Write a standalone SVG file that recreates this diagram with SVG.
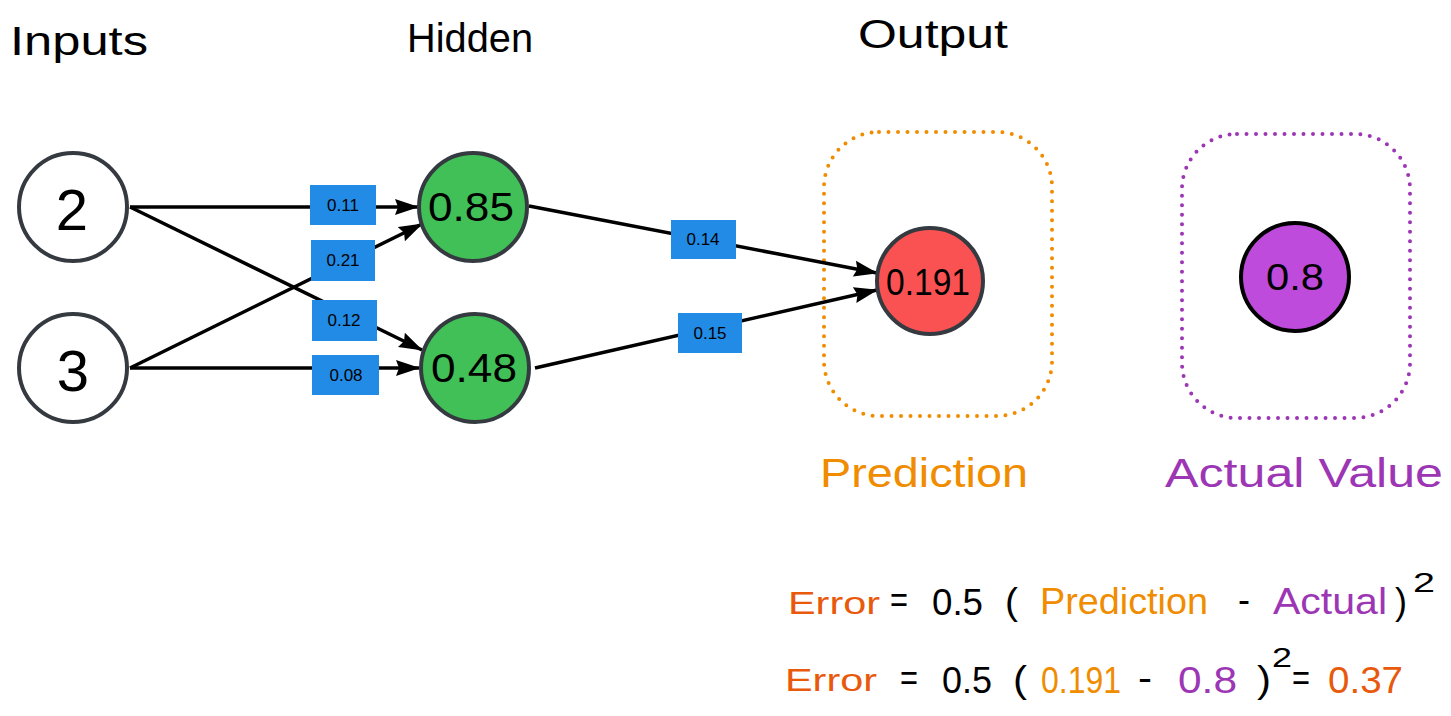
<svg xmlns="http://www.w3.org/2000/svg" width="1451" height="716" viewBox="0 0 1451 716">
<defs>
<marker id="arrow" viewBox="0 0 24 18" refX="23" refY="9" markerWidth="24" markerHeight="18" markerUnits="userSpaceOnUse" orient="auto">
<path d="M0,1 L24,9 L0,17 L3,9 z" fill="#000"/>
</marker>
</defs>
<style>
text{font-family:"Liberation Sans",Arial,sans-serif;}
.head{font-size:40px;fill:#000;}
.node{stroke:#343a40;stroke-width:4;}
.ntext{fill:#000;text-anchor:middle;dominant-baseline:central;}
.conn{stroke:#000;stroke-width:3.5;fill:none;}
.wbox{fill:#228be6;stroke:#228be6;stroke-width:2;}
.wtext{font-size:17px;fill:#000;text-anchor:middle;dominant-baseline:central;}
.eq{font-size:36px;}
.blk{fill:#000;}
.red{fill:#e8590c;}
.org{fill:#f08c00;}
.pur{fill:#9c36b5;}
</style>
<rect width="1451" height="716" fill="#fff"/>

<g id="headings">
<text class="head" x="10" y="55" textLength="138" lengthAdjust="spacingAndGlyphs">Inputs</text>
<text class="head" x="407" y="52" textLength="126" lengthAdjust="spacingAndGlyphs">Hidden</text>
<text class="head" x="858" y="48" textLength="150" lengthAdjust="spacingAndGlyphs">Output</text>
</g>

<g id="prediction-box">
<rect x="824" y="132" width="228" height="284" rx="55" fill="none" stroke="#f08c00" stroke-width="4" stroke-linecap="round" stroke-dasharray="0 9.5"/>
<text x="924" y="473" font-size="40" fill="#f08c00" text-anchor="middle" dominant-baseline="central" textLength="208" lengthAdjust="spacingAndGlyphs">Prediction</text>
</g>
<g id="actual-box">
<rect x="1182" y="134" width="228" height="284" rx="55" fill="none" stroke="#9c36b5" stroke-width="4" stroke-linecap="round" stroke-dasharray="0 9.5"/>
<text x="1304" y="473" font-size="40" fill="#9c36b5" text-anchor="middle" dominant-baseline="central" textLength="278" lengthAdjust="spacingAndGlyphs">Actual Value</text>
</g>

<g id="connectors">
<line class="conn" x1="130" y1="207" x2="418" y2="207" marker-end="url(#arrow)"/>
<line class="conn" x1="130" y1="207" x2="422" y2="350" marker-end="url(#arrow)"/>
<line class="conn" x1="130" y1="368" x2="422" y2="224" marker-end="url(#arrow)"/>
<line class="conn" x1="130" y1="368" x2="419" y2="368" marker-end="url(#arrow)"/>
<line class="conn" x1="529" y1="206" x2="877" y2="273" marker-end="url(#arrow)"/>
<line class="conn" x1="535" y1="368" x2="877" y2="290" marker-end="url(#arrow)"/>
<g id="w011"><rect class="wbox" x="311" y="186" width="64" height="38"/><text class="wtext" x="343" y="205">0.11</text></g>
<g id="w021"><rect class="wbox" x="312" y="241" width="62" height="39"/><text class="wtext" x="343" y="260">0.21</text></g>
<g id="w012"><rect class="wbox" x="313" y="301" width="63" height="39"/><text class="wtext" x="344" y="320">0.12</text></g>
<g id="w008"><rect class="wbox" x="313" y="356" width="65" height="38"/><text class="wtext" x="346" y="375">0.08</text></g>
<g id="w014"><rect class="wbox" x="672" y="221" width="63" height="37"/><text class="wtext" x="703" y="239">0.14</text></g>
<g id="w015"><rect class="wbox" x="679" y="314" width="62" height="38"/><text class="wtext" x="710" y="333">0.15</text></g>
</g>

<g id="input-2"><circle class="node" cx="73" cy="207" r="54" fill="#fff"/><text class="ntext" x="72" y="209" font-size="58">2</text></g>
<g id="input-3"><circle class="node" cx="73" cy="368" r="54" fill="#fff"/><text class="ntext" x="73" y="370" font-size="58">3</text></g>
<g id="hidden-085"><circle class="node" cx="473" cy="207" r="54" fill="#40c057"/><text class="ntext" x="471" y="207" font-size="40" textLength="86" lengthAdjust="spacingAndGlyphs">0.85</text></g>
<g id="hidden-048"><circle class="node" cx="475" cy="368" r="54" fill="#40c057"/><text class="ntext" x="474" y="368" font-size="40" textLength="86" lengthAdjust="spacingAndGlyphs">0.48</text></g>
<g id="output-0191"><circle class="node" cx="930" cy="281" r="53" fill="#fa5252"/><text class="ntext" x="928" y="282" font-size="36" textLength="84" lengthAdjust="spacingAndGlyphs">0.191</text></g>
<g id="actual-08"><circle cx="1295" cy="277" r="54" fill="#be4bdb" stroke="#000" stroke-width="4"/><text class="ntext" x="1295" y="277" font-size="36" textLength="58" lengthAdjust="spacingAndGlyphs">0.8</text></g>

<g id="equation-1" class="eq">
<text class="red" x="788" y="614" font-size="32" textLength="92" lengthAdjust="spacingAndGlyphs">Error</text>
<text class="blk" x="890" y="612" textLength="18" lengthAdjust="spacingAndGlyphs">=</text>
<text class="blk" x="932" y="615" textLength="51" lengthAdjust="spacingAndGlyphs">0.5</text>
<text class="blk" x="1005" y="614" textLength="13" lengthAdjust="spacingAndGlyphs">(</text>
<text class="org" x="1040" y="614" textLength="168" lengthAdjust="spacingAndGlyphs">Prediction</text>
<text class="blk" x="1238" y="612" textLength="12" lengthAdjust="spacingAndGlyphs">-</text>
<text class="pur" x="1273" y="614" textLength="114" lengthAdjust="spacingAndGlyphs">Actual</text>
<text class="blk" x="1395" y="614" textLength="12" lengthAdjust="spacingAndGlyphs">)</text>
<text class="blk" x="1413" y="592" font-size="28" textLength="22" lengthAdjust="spacingAndGlyphs">2</text>
</g>
<g id="equation-2" class="eq">
<text class="red" x="785" y="691" font-size="32" textLength="92" lengthAdjust="spacingAndGlyphs">Error</text>
<text class="blk" x="900" y="690" textLength="18" lengthAdjust="spacingAndGlyphs">=</text>
<text class="blk" x="942" y="693" textLength="50" lengthAdjust="spacingAndGlyphs">0.5</text>
<text class="blk" x="1013" y="692" textLength="14" lengthAdjust="spacingAndGlyphs">(</text>
<text class="org" x="1041" y="693" textLength="80" lengthAdjust="spacingAndGlyphs">0.191</text>
<text class="blk" x="1138" y="690" textLength="14" lengthAdjust="spacingAndGlyphs">-</text>
<text class="pur" x="1178" y="693" textLength="59" lengthAdjust="spacingAndGlyphs">0.8</text>
<text class="blk" x="1257" y="692" textLength="14" lengthAdjust="spacingAndGlyphs">)</text>
<text class="blk" x="1272" y="667" font-size="28" textLength="20" lengthAdjust="spacingAndGlyphs">2</text>
<text class="blk" x="1292" y="690" textLength="18" lengthAdjust="spacingAndGlyphs">=</text>
<text class="red" x="1328" y="693" textLength="75" lengthAdjust="spacingAndGlyphs">0.37</text>
</g>
</svg>
